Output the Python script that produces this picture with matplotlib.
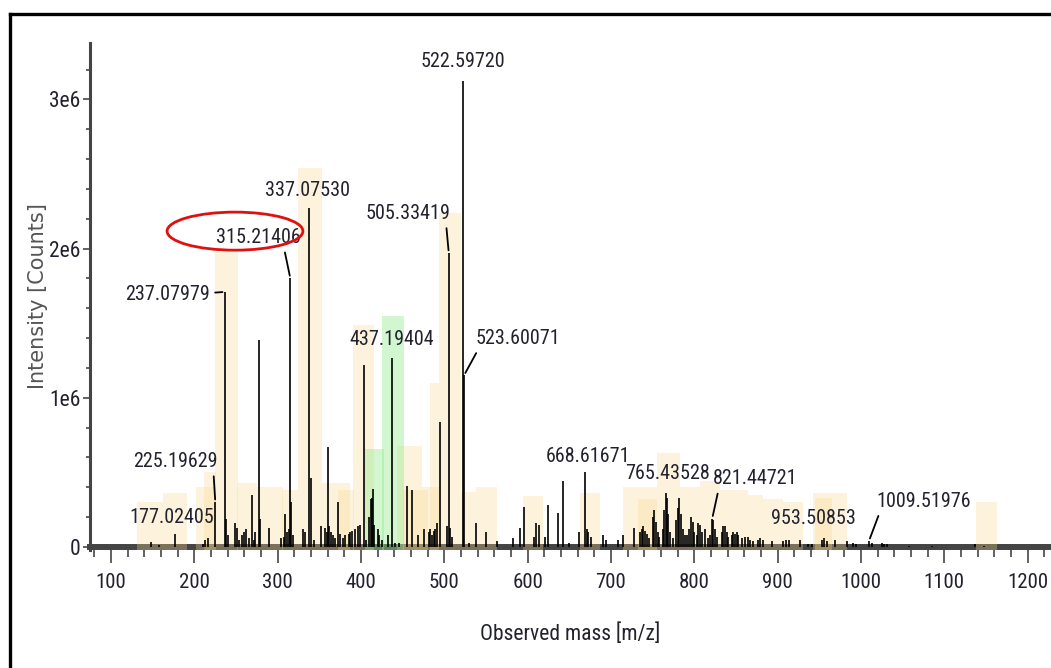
import matplotlib
matplotlib.use('Agg')
import matplotlib.pyplot as plt
from matplotlib import font_manager
from matplotlib.patches import Rectangle, Ellipse
from matplotlib.lines import Line2D
from matplotlib.ticker import MultipleLocator, FuncFormatter

# centroided peaks: m/z and intensity (millions of counts)
peak_mz = [148, 158, 177.02405, 210, 213, 216, 225.19629, 237.07979, 238.4, 240,
           249, 251, 254, 257, 259, 262, 265, 269, 271, 273,
           277.6, 279, 290, 303.6, 307, 309, 311, 313, 315.21406, 316,
           318, 330, 333, 337.0753, 339.6, 343, 351.6, 357, 359, 360.3,
           362, 364, 366, 369, 372.6, 375, 378, 381, 385, 387,
           389, 393, 396, 399, 403.6, 406, 410, 411.5, 413, 414.5,
           416, 420, 422, 425, 432, 437.19404, 441, 446, 455, 461,
           468, 475, 481, 483, 485, 487, 489, 491, 495, 503,
           505.33419, 507, 509, 522.5972, 523.60071, 529, 537.6, 550, 563, 582,
           591, 595, 608, 609.5, 613, 621, 625, 637, 643, 650,
           662, 668.61671, 671, 673, 676, 690, 694, 708, 714, 728,
           735, 737, 739, 741, 743, 746, 750, 752, 754, 756,
           758, 762, 764, 765.43528, 767, 769, 771, 774, 778, 780,
           782, 784, 786, 789, 791, 794, 796, 798, 800, 803,
           805, 807, 809, 813, 816, 819, 821.44721, 823, 825, 827,
           833, 835, 837, 839, 841, 845, 847, 849, 851, 853,
           857, 861, 864, 867, 871, 877, 879, 882, 893, 907,
           910, 914, 927, 937, 941, 953.50853, 956, 959, 969, 983,
           990, 994, 1009.51976, 1013, 1025, 1028, 1031, 1058, 1085, 1137,
           1148]
peak_int = [0.035, 0.012, 0.09, 0.02, 0.05, 0.06, 0.30, 1.71, 0.19, 0.08,
            0.16, 0.13, 0.05, 0.08, 0.10, 0.12, 0.06, 0.35, 0.05, 0.10,
            1.39, 0.19, 0.13, 0.06, 0.07, 0.22, 0.10, 0.12, 1.80, 0.30,
            0.08, 0.12, 0.10, 2.27, 0.46, 0.05, 0.14, 0.13, 0.10, 0.67,
            0.14, 0.10, 0.08, 0.06, 0.30, 0.09, 0.06, 0.08, 0.09, 0.10,
            0.11, 0.12, 0.14, 0.15, 1.22, 0.05, 0.20, 0.32, 0.33, 0.39,
            0.15, 0.12, 0.08, 0.05, 0.08, 1.27, 0.03, 0.03, 0.41, 0.38,
            0.08, 0.12, 0.10, 0.12, 0.08, 0.11, 0.12, 0.16, 0.84, 0.14,
            1.97, 0.13, 0.07, 3.12, 1.15, 0.03, 0.16, 0.10, 0.04, 0.06,
            0.13, 0.27, 0.07, 0.16, 0.15, 0.07, 0.28, 0.23, 0.44, 0.03,
            0.10, 0.50, 0.12, 0.10, 0.07, 0.08, 0.05, 0.05, 0.08, 0.13,
            0.10, 0.12, 0.14, 0.11, 0.09, 0.06, 0.20, 0.25, 0.17, 0.10,
            0.07, 0.12, 0.25, 0.36, 0.33, 0.22, 0.10, 0.06, 0.18, 0.26,
            0.33, 0.22, 0.12, 0.08, 0.08, 0.12, 0.20, 0.17, 0.10, 0.08,
            0.16, 0.15, 0.10, 0.12, 0.06, 0.08, 0.19, 0.18, 0.12, 0.07,
            0.10, 0.14, 0.14, 0.10, 0.07, 0.08, 0.10, 0.09, 0.10, 0.08,
            0.06, 0.07, 0.07, 0.05, 0.04, 0.05, 0.06, 0.05, 0.04, 0.04,
            0.05, 0.05, 0.05, 0.02, 0.02, 0.05, 0.06, 0.04, 0.05, 0.04,
            0.03, 0.02, 0.04, 0.03, 0.03, 0.02, 0.02, 0.01, 0.01, 0.02,
            0.01]

# labelled peaks
label_mz = [177.02405, 225.19629, 237.07979, 315.21406, 337.0753, 437.19404,
            505.33419, 522.5972, 523.60071, 668.61671, 765.43528, 821.44721,
            953.50853, 1009.51976]
label_text = ['177.02405', '225.19629', '237.07979', '315.21406', '337.07530',
              '437.19404', '505.33419', '522.59720', '523.60071', '668.61671',
              '765.43528', '821.44721', '953.50853', '1009.51976']

# highlighted isotope windows: start, end m/z and height (millions)
orange_start = [131, 162, 202, 212, 225, 251, 275, 305, 324, 353, 372, 390,
                443, 450, 473, 483, 494, 520, 538, 594, 663, 715, 732, 755,
                783, 807, 831, 864, 882, 907, 942, 945, 1138]
orange_end = [162, 191, 225, 226, 252, 275, 306, 324, 353, 387, 392, 416,
              473, 480, 494, 494, 520, 538, 563, 618, 687, 755, 755, 783,
              807, 831, 864, 882, 907, 930, 983, 965, 1163]
orange_height = [0.30, 0.36, 0.40, 0.50, 1.98, 0.43, 0.40, 0.38, 2.54, 0.43, 0.38, 1.49,
                 0.68, 0.38, 0.40, 1.10, 2.24, 0.37, 0.40, 0.34, 0.36, 0.40, 0.32, 0.63,
                 0.40, 0.44, 0.38, 0.35, 0.32, 0.30, 0.36, 0.33, 0.30]
green_start = [405, 425]
green_end = [428, 452]
green_height = [0.66, 1.55]

# label layout: text-centre offset from peak top (pixels), leader anchor on text
label_offset = {'177.02405': (-3, 16), '225.19629': (-40, 41), '237.07979': (-58, -3),
                '315.21406': (-32, 41), '337.07530': (-1, 18), '437.19404': (0, 18),
                '505.33419': (-41, 40), '522.59720': (0, 20), '523.60071': (54, 37),
                '668.61671': (3, 16), '765.43528': (2, 20), '821.44721': (43, 40),
                '953.50853': (-9, 21), '1009.51976': (55, 40)}
leader_relpos = {'225.19629': (0.95, 0), '237.07979': (1, 0.6), '315.21406': (0.8, 0),
                 '505.33419': (0.95, 0), '523.60071': (0.04, 0), '821.44721': (0.07, 0),
                 '1009.51976': (0.04, 0)}


def narrow_font():
    fonts = font_manager.fontManager.ttflist
    for name in ['Roboto Condensed', 'Liberation Sans Narrow', 'Open Sans Condensed']:
        if any(f.name == name for f in fonts):
            return name
    return 'DejaVu Sans'


nf = narrow_font()
txt_col = '#22222e'
axis_col = '#444444'

fig = plt.figure(figsize=(10.51, 6.68), dpi=100)
ax = fig.add_axes([90 / 1051, 1 - 550 / 668, 961 / 1051, 507 / 668])
ax.set_xlim(74.8, 1228)
ax.set_ylim(-0.02e6, 3.378e6)

y0 = -0.02e6
for s, e, h in zip(orange_start, orange_end, orange_height):
    ax.add_patch(Rectangle((s, y0), e - s, h * 1e6 - y0, facecolor='#FBD890',
                           alpha=0.3, lw=0, zorder=3))
for s, e, h in zip(green_start, green_end, green_height):
    ax.add_patch(Rectangle((s, y0), e - s, h * 1e6 - y0, facecolor='#8EEA8A',
                           alpha=0.4, lw=0, zorder=3))

ax.vlines(peak_mz, 0, [v * 1e6 for v in peak_int], color='black', lw=1.2, zorder=4)

for mz, txt in zip(label_mz, label_text):
    top = peak_int[peak_mz.index(mz)] * 1e6
    arrow = None
    if txt in leader_relpos:
        arrow = dict(arrowstyle='-', color='black', lw=1.3, shrinkA=2, shrinkB=2,
                     relpos=leader_relpos[txt])
    ax.annotate(txt, xy=(mz, top), xytext=label_offset[txt], textcoords='offset pixels',
                ha='center', va='center', fontsize=14.5, color=txt_col,
                arrowprops=arrow, zorder=5, family=nf)

# red circle around 315.21406
ax.add_patch(Ellipse((248.8, 2.117e6), 163, 0.255e6, fill=False, edgecolor='#e01010',
                     lw=2, zorder=6, clip_on=False))

for side in ['top', 'right']:
    ax.spines[side].set_visible(False)
ax.spines['bottom'].set_position(('data', 0))
ax.spines['bottom'].set_linewidth(4.3)
ax.spines['bottom'].set_color(axis_col)
ax.spines['left'].set_linewidth(2.2)
ax.spines['left'].set_color(axis_col)

ax.xaxis.set_major_locator(MultipleLocator(100))
ax.xaxis.set_minor_locator(MultipleLocator(20))
ax.yaxis.set_major_locator(MultipleLocator(1e6))
ax.yaxis.set_minor_locator(MultipleLocator(0.2e6))
ax.yaxis.set_major_formatter(FuncFormatter(lambda v, p: '0' if v == 0 else '%de6' % round(v / 1e6)))
ax.tick_params(axis='x', which='major', length=11.5, width=1.3, color='#555555', pad=7,
               labelsize=15, labelcolor=txt_col)
ax.tick_params(axis='x', which='minor', length=7, width=1.3, color='#555555')
ax.tick_params(axis='y', which='major', length=5, width=1.3, color='#555555', pad=2,
               labelsize=15.5, labelcolor=txt_col)
ax.tick_params(axis='y', which='minor', length=3, width=1.3, color='#555555')
for lab in ax.get_xticklabels() + ax.get_yticklabels():
    lab.set_fontfamily(nf)

ax.set_xlabel('Observed mass [m/z]', fontsize=15.5, color=txt_col, labelpad=23, family=nf)
ax.set_ylabel('Intensity [Counts]', fontsize=15, color='#555555', labelpad=1,
              family='DejaVu Sans')

# frame of the screenshot
fig.add_artist(Line2D([9.5 / 1051, 9.5 / 1051], [0, 1 - 13.5 / 668], color='black', lw=2.4))
fig.add_artist(Line2D([9.5 / 1051, 1], [1 - 13.5 / 668, 1 - 13.5 / 668], color='black', lw=2.4))

fig.savefig('out.png', dpi=100)
